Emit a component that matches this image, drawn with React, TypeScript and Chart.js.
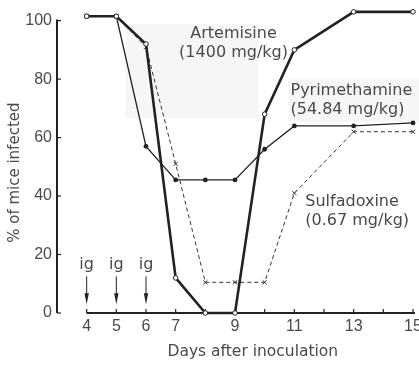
import React, { useEffect, useRef } from "react";
import { Chart, registerables } from "chart.js";
Chart.register(...registerables);

const days = [4, 5, 6, 7, 8, 9, 10, 11, 13, 15];
const artemisine = [101.5, 101.5, 92, 12, 0, 0, 68, 90, 103, 103];
const pyrimethamine = [101.5, 101.5, 57, 45.5, 45.5, 45.5, 56, 64, 64, 65];
const sulfadoxine = [101.5, 101.5, 91, 51, 10.5, 10.5, 10.5, 41, 62, 62];
const xTickValues = [4, 5, 6, 7, 9, 11, 13, 15];
const yTickValues = [0, 20, 40, 60, 80, 100];
const doseDays = [4, 5, 6];
const doseLabel = "ig";
const seriesNames = ["Artemisine", "Pyrimethamine", "Sulfadoxine"];
const seriesDoses = ["(1400 mg/kg)", "(54.84 mg/kg)", "(0.67 mg/kg)"];
const xTitle = "Days after inoculation";
const yTitle = "% of mice infected";

const INK = "#222";
const TEXT = "#4a4a4a";
const FONT = "'DejaVu Sans', sans-serif";

// label anchors in data coordinates [day, value, align]
const labelAnchors: [number, number, CanvasTextAlign][] = [
  [8.95, 95.5, "center"],
  [10.87, 76, "left"],
  [11.37, 38, "left"],
];
// faint scan shading boxes [day0, day1, v0, v1]
const shadeBoxes: [number, number, number, number][] = [
  [5.31, 9.79, 98.8, 66.7],
  [10.8, 15.2, 80.3, 65.3],
];

const decorPlugin = {
  id: "decor",
  beforeDatasetsDraw(chart: any) {
    const { ctx, scales } = chart;
    const xs = scales.x, ys = scales.y;
    const left = chart.chartArea.left;
    ctx.save();
    ctx.fillStyle = "#f6f6f6";
    for (const [d0, d1, v0, v1] of shadeBoxes) {
      const x0 = xs.getPixelForValue(d0), x1 = xs.getPixelForValue(d1);
      const y0 = ys.getPixelForValue(v0), y1 = ys.getPixelForValue(v1);
      ctx.fillRect(x0, y0, x1 - x0, y1 - y0);
    }
    ctx.strokeStyle = INK;
    ctx.lineWidth = 2;
    // y axis
    ctx.beginPath();
    ctx.moveTo(left, ys.getPixelForValue(0));
    ctx.lineTo(left, ys.getPixelForValue(100) - 1);
    ctx.stroke();
    ctx.lineWidth = 1.2;
    for (const v of yTickValues) {
      const y = ys.getPixelForValue(v);
      ctx.beginPath();
      ctx.moveTo(left, y);
      ctx.lineTo(left + 4, y);
      ctx.stroke();
    }
    // x axis
    const y0 = ys.getPixelForValue(0);
    ctx.lineWidth = 2;
    ctx.beginPath();
    ctx.moveTo(xs.getPixelForValue(4), y0);
    ctx.lineTo(xs.getPixelForValue(15) + 2, y0);
    ctx.stroke();
    ctx.lineWidth = 1.2;
    for (let d = 4; d <= 15; d++) {
      const x = xs.getPixelForValue(d);
      ctx.beginPath();
      ctx.moveTo(x, y0);
      ctx.lineTo(x, y0 - 4);
      ctx.stroke();
    }
    ctx.restore();
  },
  afterDatasetsDraw(chart: any) {
    const { ctx, scales } = chart;
    const xs = scales.x, ys = scales.y;
    ctx.save();
    ctx.fillStyle = TEXT;
    ctx.font = `16px ${FONT}`;
    ctx.textBaseline = "middle";
    // dose arrows
    for (const d of doseDays) {
      const x = xs.getPixelForValue(d);
      const yTop = ys.getPixelForValue(12.5);
      const yTip = ys.getPixelForValue(3);
      ctx.textAlign = "center";
      ctx.fillText(doseLabel, x, ys.getPixelForValue(16.5));
      ctx.strokeStyle = INK;
      ctx.lineWidth = 1;
      ctx.beginPath();
      ctx.moveTo(x, yTop);
      ctx.lineTo(x, yTip - 8);
      ctx.stroke();
      ctx.fillStyle = INK;
      ctx.beginPath();
      ctx.moveTo(x - 2.2, yTip - 11);
      ctx.lineTo(x + 2.2, yTip - 11);
      ctx.lineTo(x, yTip);
      ctx.closePath();
      ctx.fill();
      ctx.fillStyle = TEXT;
    }
    // series labels
    labelAnchors.forEach(([d, v, align], i) => {
      const x = xs.getPixelForValue(d);
      const y = ys.getPixelForValue(v);
      ctx.textAlign = align;
      ctx.fillText(seriesNames[i], x, y);
      ctx.fillText(seriesDoses[i], x, y + 19);
    });
    // axis titles
    ctx.font = `15.5px ${FONT}`;
    ctx.textAlign = "center";
    ctx.fillText(xTitle, xs.getPixelForValue(9.6), chart.height - 14);
    ctx.font = `15px ${FONT}`;
    ctx.translate(15, ys.getPixelForValue(48));
    ctx.rotate(-Math.PI / 2);
    ctx.fillText(yTitle, 0, 0);
    ctx.restore();
  },
};

export default function App() {
  const ref = useRef<HTMLCanvasElement>(null);
  useEffect(() => {
    const toXY = (vals: number[]) => days.map((d, i) => ({ x: d, y: vals[i] }));
    const chart = new Chart(ref.current!, {
      type: "line",
      data: {
        datasets: [
          {
            label: seriesNames[0],
            data: toXY(artemisine),
            borderColor: INK,
            borderWidth: 2.6,
            pointStyle: "circle",
            pointRadius: 2.3,
            pointBackgroundColor: "#fff",
            pointBorderColor: INK,
            pointBorderWidth: 1,
          },
          {
            label: seriesNames[1],
            data: toXY(pyrimethamine),
            borderColor: INK,
            borderWidth: 1.3,
            pointStyle: "circle",
            pointRadius: 2.4,
            pointBackgroundColor: INK,
            pointBorderColor: INK,
            pointBorderWidth: 0,
          },
          {
            label: seriesNames[2],
            data: toXY(sulfadoxine),
            borderColor: "#333",
            borderWidth: 1,
            borderDash: [4, 3],
            pointStyle: "crossRot",
            pointRadius: 3,
            pointBorderColor: "#333",
            pointBorderWidth: 1,
          },
        ],
      },
      options: {
        responsive: false,
        animation: false,
        clip: false as any,
        layout: { padding: { left: 0, right: 6, top: 6, bottom: 0 } },
        plugins: { legend: { display: false }, tooltip: { enabled: false } },
        scales: {
          x: {
            type: "linear",
            min: 3,
            max: 15,
            grid: { display: false, drawTicks: false, tickLength: 0 },
            border: { display: false },
            afterBuildTicks: (s: any) => {
              s.ticks = xTickValues.map((v) => ({ value: v }));
            },
            afterFit: (s: any) => {
              s.height = 53;
              s.paddingLeft = 0;
              s.paddingRight = 0;
            },
            ticks: {
              autoSkip: false,
              maxRotation: 0,
              padding: 4,
              color: TEXT,
              font: { family: "'Liberation Sans', sans-serif", size: 16 },
            },
          },
          y: {
            type: "linear",
            min: 0,
            max: 105,
            grid: { display: false, drawTicks: false, tickLength: 0 },
            border: { display: false },
            afterBuildTicks: (s: any) => {
              s.ticks = yTickValues.map((v) => ({ value: v }));
            },
            afterFit: (s: any) => {
              s.width = 57;
              s.paddingTop = 0;
              s.paddingBottom = 0;
            },
            ticks: {
              padding: 5,
              color: TEXT,
              font: { family: "'Liberation Sans', sans-serif", size: 16 },
            },
          },
        },
      },
      plugins: [decorPlugin],
    });
    return () => chart.destroy();
  }, []);
  return (
    <div style={{ position: "fixed", left: 0, top: 0, width: 419, height: 366, background: "#fff" }}>
      <canvas ref={ref} width={419} height={366} />
    </div>
  );
}
